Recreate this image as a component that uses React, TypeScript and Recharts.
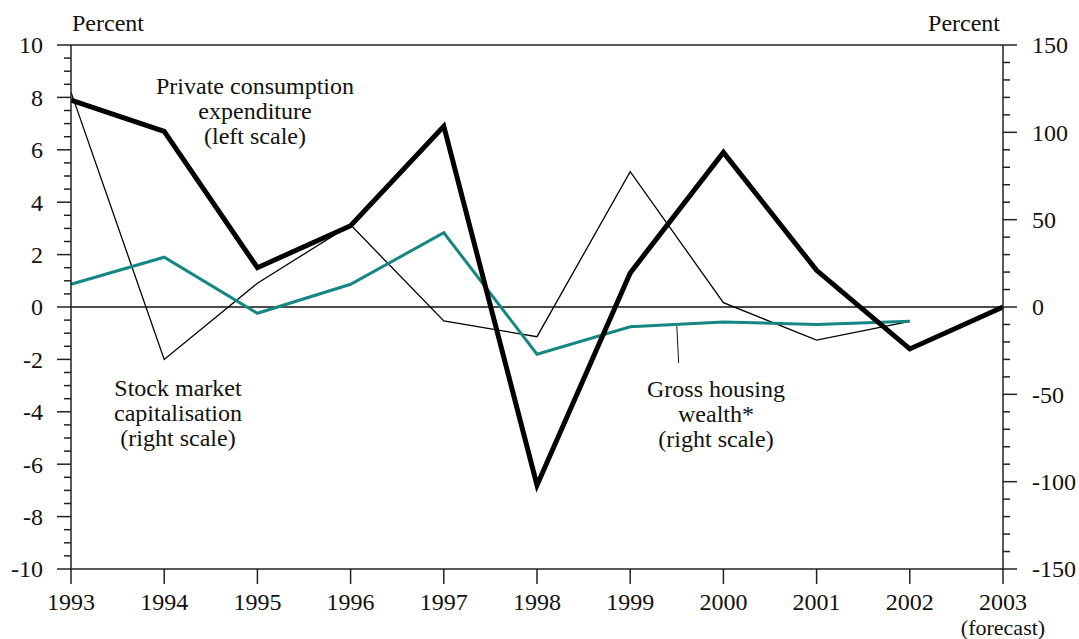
import React from 'react';
import { LineChart, Line, XAxis, YAxis, ReferenceLine } from 'recharts';

// Annual percentage changes
const years = [1993, 1994, 1995, 1996, 1997, 1998, 1999, 2000, 2001, 2002, 2003];
const consumption = [7.9, 6.7, 1.5, 3.1, 6.9, -6.8, 1.3, 5.9, 1.4, -1.6, 0];
const stockMarket = [123, -30, 13.6, 47, -8, -17, 77.5, 2.5, -19, -8.2, null];
const housingWealth = [13, 28.5, -3.6, 13, 42.5, -27, -11.3, -8.6, -10, -8.2, null];

const leftMajor = [-10, -8, -6, -4, -2, 0, 2, 4, 6, 8, 10];
const rightMajor = [-150, -100, -50, 0, 50, 100, 150];

const W = 1079;
const H = 639;
const FONT = '"Liberation Serif", "Times New Roman", serif';
const FS = 24;
const TEAL = '#148783';

const data = years.map((year, i) => ({
  year,
  consumption: consumption[i],
  stock: stockMarket[i],
  housing: housingWealth[i],
}));

// minor ticks in between the labelled ones
const leftTicks: number[] = [];
for (let v = -10; v <= 10.001; v += 0.5) leftTicks.push(Math.round(v * 10) / 10);
const rightTicks: number[] = [];
for (let v = -150; v <= 150; v += 10) rightTicks.push(v);

const LeftTick = (props: any) => {
  const { x, y, payload } = props;
  const major = leftMajor.includes(payload.value);
  return (
    <g>
      <line x1={x - (major ? 14 : 7)} x2={x} y1={y} y2={y} stroke="#222" strokeWidth={1.5} />
      {major && (
        <text x={x - 28} y={y} dy="0.35em" textAnchor="end" style={{ fontFamily: FONT }} fontSize={FS} fill="#111">
          {payload.value}
        </text>
      )}
    </g>
  );
};

const RightTick = (props: any) => {
  const { x, y, payload } = props;
  const major = rightMajor.includes(payload.value);
  return (
    <g>
      <line x1={x} x2={x + (major ? 14 : 7)} y1={y} y2={y} stroke="#222" strokeWidth={1.5} />
      {major && (
        <text x={x + 29} y={y} dy="0.35em" textAnchor="start" style={{ fontFamily: FONT }} fontSize={FS} fill="#111">
          {payload.value}
        </text>
      )}
    </g>
  );
};

const YearTick = (props: any) => {
  const { x, y, payload } = props;
  return (
    <g>
      <text x={x} y={y} dy={26} textAnchor="middle" style={{ fontFamily: FONT }} fontSize={FS} fill="#111">
        {payload.value}
      </text>
      {payload.value === 2003 && (
        <text x={x} y={y} dy={51} textAnchor="middle" style={{ fontFamily: FONT }} fontSize={22} fill="#111">
          (forecast)
        </text>
      )}
    </g>
  );
};

const Note = ({ x, y, lines }: { x: number; y: number; lines: string[] }) => (
  <text x={x} y={y} textAnchor="middle" style={{ fontFamily: FONT }} fontSize={FS} fill="#111">
    {lines.map((l, i) => (
      <tspan key={i} x={x} dy={i === 0 ? 0 : 25}>
        {l}
      </tspan>
    ))}
  </text>
);

export default function App() {
  return (
    <div style={{ position: 'absolute', left: 0, top: 0, width: W, height: H, background: '#fff' }}>
      <LineChart width={W} height={H} data={data} margin={{ top: 45, right: 0, bottom: 0, left: 0 }}>
        <XAxis
          dataKey="year"
          type="number"
          domain={[1993, 2003]}
          ticks={years}
          interval={0}
          height={70}
          stroke="#222"
          strokeWidth={1.5}
          tickSize={15}
          tickMargin={0}
          tick={YearTick}
        />
        <YAxis
          yAxisId="left"
          domain={[-10, 10]}
          ticks={leftTicks}
          interval={0}
          width={71}
          stroke="#222"
          strokeWidth={1.5}
          tickLine={false}
          tickSize={0}
          tickMargin={0}
          tick={LeftTick}
        />
        <YAxis
          yAxisId="right"
          orientation="right"
          domain={[-150, 150]}
          ticks={rightTicks}
          interval={0}
          width={76}
          stroke="#222"
          strokeWidth={1.5}
          tickLine={false}
          tickSize={0}
          tickMargin={0}
          tick={RightTick}
        />
        <ReferenceLine yAxisId="left" y={10} stroke="#222" strokeWidth={1.5} />
        <ReferenceLine yAxisId="left" y={0} stroke="#111" strokeWidth={1.3} />
        <ReferenceLine
          yAxisId="right"
          segment={[
            { x: 1999.5, y: -10.9 },
            { x: 1999.52, y: -32 },
          ]}
          stroke="#111"
          strokeWidth={1}
        />
        <Line
          yAxisId="right"
          dataKey="stock"
          stroke="#000"
          strokeWidth={1.3}
          dot={false}
          activeDot={false}
          isAnimationActive={false}
        />
        <Line
          yAxisId="right"
          dataKey="housing"
          stroke={TEAL}
          strokeWidth={3}
          dot={false}
          activeDot={false}
          isAnimationActive={false}
        />
        <Line
          yAxisId="left"
          dataKey="consumption"
          stroke="#000"
          strokeWidth={5}
          strokeLinejoin="miter"
          dot={false}
          activeDot={false}
          isAnimationActive={false}
        />
      </LineChart>
      <svg width={W} height={H} style={{ position: 'absolute', left: 0, top: 0, pointerEvents: 'none' }}>
        <text x={72} y={31} style={{ fontFamily: FONT }} fontSize={FS} fill="#111">Percent</text>
        <text x={1000} y={31} textAnchor="end" style={{ fontFamily: FONT }} fontSize={FS} fill="#111">Percent</text>
        <Note x={255} y={94} lines={['Private consumption', 'expenditure', '(left scale)']} />
        <Note x={178} y={396} lines={['Stock market', 'capitalisation', '(right scale)']} />
        <Note x={716} y={397} lines={['Gross housing', 'wealth*', '(right scale)']} />
      </svg>
    </div>
  );
}
